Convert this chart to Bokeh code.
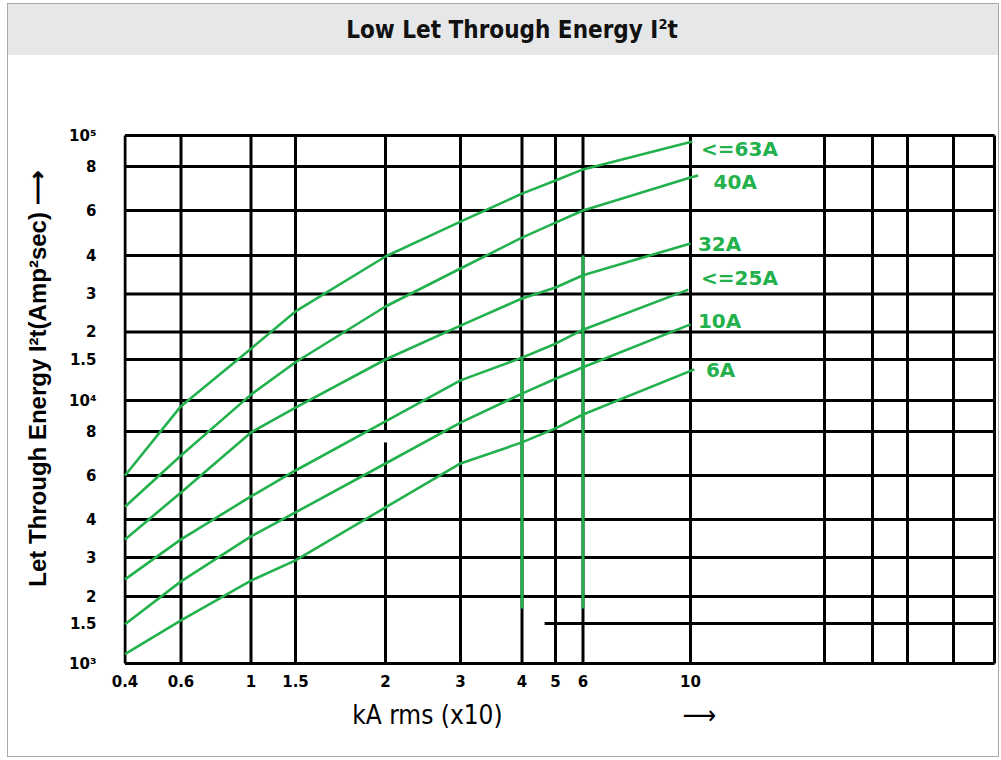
import numpy as np
from bokeh.plotting import figure
from bokeh.models import Range1d, FixedTicker, LinearAxis, Div, ColumnDataSource
from bokeh.layouts import column
from bokeh.embed import file_html
from bokeh.resources import INLINE
from bokeh.core.properties import value

# ---------------- data ----------------
X_TICKS = [0.4, 0.6, 1, 1.5, 2, 3, 4, 5, 6, 10]
X_TICK_LABELS = ["0.4", "0.6", "1", "1.5", "2", "3", "4", "5", "6", "10"]
X_GRID = [0.4, 0.6, 1, 1.5, 2, 3, 4, 5, 6, 10, 20, 30, 40, 60, 100]

Y_TICKS = [1e3, 1.5e3, 2e3, 3e3, 4e3, 6e3, 8e3, 1e4, 1.5e4, 2e4, 3e4, 4e4, 6e4, 8e4, 1e5]
Y_TICK_LABELS = ["10³", "1.5", "2", "3", "4", "6", "8", "10⁴",
                 "1.5", "2", "3", "4", "6", "8", "10⁵"]

CURVES = ["<=63A", "40A", "32A", "<=25A", "10A", "6A"]

X_63A = [0.4, 0.6, 1, 1.5, 2, 3, 4, 5, 6, 10.1]
Y_63A = [6000, 9600, 16800, 24900, 39700, 54300, 67000, 73000, 78500, 95800]
X_40A = [0.4, 0.6, 1, 1.5, 2, 3, 4, 5, 6, 10, 10.4]
Y_40A = [4500, 6840, 10600, 14600, 26250, 36300, 47000, 53800, 60000, 74400, 75400]
X_32A = [0.4, 0.6, 1, 1.5, 2, 3, 4, 5, 6, 10]
Y_32A = [3440, 5130, 7950, 9500, 15000, 21400, 28600, 31500, 34500, 44600]
X_25A = [0.4, 0.6, 1, 1.5, 2, 3, 4, 5, 6, 9.9]
Y_25A = [2390, 3440, 4950, 6200, 8600, 12200, 15300, 17700, 20500, 31000]
X_10A = [0.4, 0.6, 1, 1.5, 2, 3, 4, 5, 6, 10]
Y_10A = [1490, 2340, 3520, 4270, 6490, 8530, 10700, 12400, 13900, 21700]
X_6A = [0.4, 0.6, 1, 1.5, 2, 3, 4, 5, 6, 10.2]
Y_6A = [1100, 1550, 2360, 2910, 4470, 6490, 7450, 8180, 9040, 13600]

# curve label anchors (kA, I2t)
LABEL_X = [10.56, 11.27, 10.39, 10.56, 10.39, 10.83]
LABEL_Y = [91000, 72500, 44200, 33900, 22400, 13500]

# green vertical markers
MARK_X = [4, 6]
MARK_LOW = [1760, 1760]
MARK_HIGH = [15300, 40000]

# ---------------- the printed (non-uniform log) scale of the sheet ----------------
SCALE_X = [0, 56, 126, 170.5, 260.5, 335.5, 397, 430.5, 458, 565.5,
           699.5, 747.5, 782.5, 828.5, 869.5]
SCALE_Y = [0, 40, 67, 106, 144, 188, 232, 263, 304, 331.5, 369.5, 408, 453, 497, 528]


def sx(v):
    return np.interp(np.log10(np.asarray(v, dtype=float)), np.log10(X_GRID), SCALE_X)


def sy(v):
    return np.interp(np.log10(np.asarray(v, dtype=float)), np.log10(Y_TICKS), SCALE_Y)


GREEN = "#22b14c"

p = figure(width=990, height=701, x_range=Range1d(-1.5, 871.5), y_range=Range1d(-2, 530),
           output_backend="svg", toolbar_location=None, margin=0,
           min_border_left=115, min_border_right=2, min_border_top=78, min_border_bottom=91)
p.outline_line_color = None
p.grid.visible = False
p.background_fill_color = "white"
p.border_fill_color = "white"

# ---- grid lines of the sheet ----
x0, x1, y0, y1 = [], [], [], []
for gx in X_GRID:
    if gx == 2:
        x0 += [gx, gx]; x1 += [gx, gx]
        y0 += [1e3, 8000]; y1 += [7450, 1e5]
    else:
        x0.append(gx); x1.append(gx); y0.append(1e3); y1.append(1e5)
for gy in Y_TICKS:
    x0.append(4.65 if gy == 1.5e3 else 0.4); x1.append(100)
    y0.append(gy); y1.append(gy)
grid_src = ColumnDataSource(dict(x0=sx(x0), x1=sx(x1), y0=sy(y0), y1=sy(y1)))
p.segment("x0", "y0", "x1", "y1", source=grid_src, line_color="black", line_width=3)

# ---- green markers ----
mk = ColumnDataSource(dict(x=sx(MARK_X), y0=sy(MARK_LOW), y1=sy(MARK_HIGH)))
p.segment("x", "y0", "x", "y1", source=mk, line_color=GREEN, line_width=3)

# ---- curves ----
for xs, ys in [(X_63A, Y_63A), (X_40A, Y_40A), (X_32A, Y_32A),
               (X_25A, Y_25A), (X_10A, Y_10A), (X_6A, Y_6A)]:
    p.line(sx(xs), sy(ys), line_color=GREEN, line_width=2.6)

lab = ColumnDataSource(dict(x=sx(LABEL_X), y=sy(LABEL_Y), t=CURVES))
p.text("x", "y", text="t", source=lab, text_color=GREEN, text_font=value("DejaVu Sans"),
       text_font_style="bold", text_font_size="20px", text_align="left",
       text_baseline="middle")

# ---- axes ----
xt = [float(v) for v in sx(X_TICKS)]
p.xaxis.ticker = FixedTicker(ticks=xt)
p.xaxis.major_label_overrides = {t: l for t, l in zip(xt, X_TICK_LABELS)}
yt = [float(v) for v in sy(Y_TICKS)]
p.yaxis.ticker = FixedTicker(ticks=yt)
p.yaxis.major_label_overrides = {t: l for t, l in zip(yt, Y_TICK_LABELS)}
for ax in (p.xaxis, p.yaxis):
    ax.axis_line_color = None
    ax.major_tick_line_color = None
    ax.minor_tick_line_color = None
    ax.major_label_text_font = "DejaVu Sans"
    ax.major_label_text_font_style = "bold"
    ax.major_label_text_font_size = "15px"
    ax.major_label_text_color = "black"
p.xaxis.major_label_standoff = 3
p.yaxis.major_label_standoff = 21

# x title with its arrow (spacing places them as on the sheet)
p.xaxis.axis_label = ("kA rms (x10)" + "\u2003" * 7 + "\u2002\u2009" + "⟶"
                      + "\u2003" * 2 + "\u2009")
p.xaxis.axis_label_text_font = "DejaVu Sans Condensed"
p.xaxis.axis_label_text_font_style = "normal"
p.xaxis.axis_label_text_font_size = "26px"
p.xaxis.axis_label_text_color = "black"
p.xaxis.axis_label_standoff = 10

# y title on an extra axis
ytitle = LinearAxis(ticker=FixedTicker(ticks=[]),
                    axis_label="\u2003\u2002\u2009Let Through Energy I²t(Amp²sec) ⟶",
                    axis_line_color=None, major_tick_line_color=None,
                    minor_tick_line_color=None,
                    axis_label_text_font="Liberation Sans",
                    axis_label_text_font_style="bold",
                    axis_label_text_font_size="24px",
                    axis_label_text_color="black",
                    axis_label_standoff=16)
p.add_layout(ytitle, "left")

title = Div(text="Low Let Through Energy I<sup style='font-size:60%'>2</sup>t",
            width=990, height=51, margin=0,
            styles={"background-color": "#e6e7e8", "text-align": "center",
                    "text-indent": "18px",
                    "font-family": "'DejaVu Sans Condensed', sans-serif",
                    "font-weight": "bold",
                    "font-size": "24px", "line-height": "41px", "color": "#111"})

layout = column(title, p, margin=(3, 0, 0, 7),
                styles={"border": "1px solid #a8a8a8"})

open("out.html", "w").write(file_html(layout, INLINE))
